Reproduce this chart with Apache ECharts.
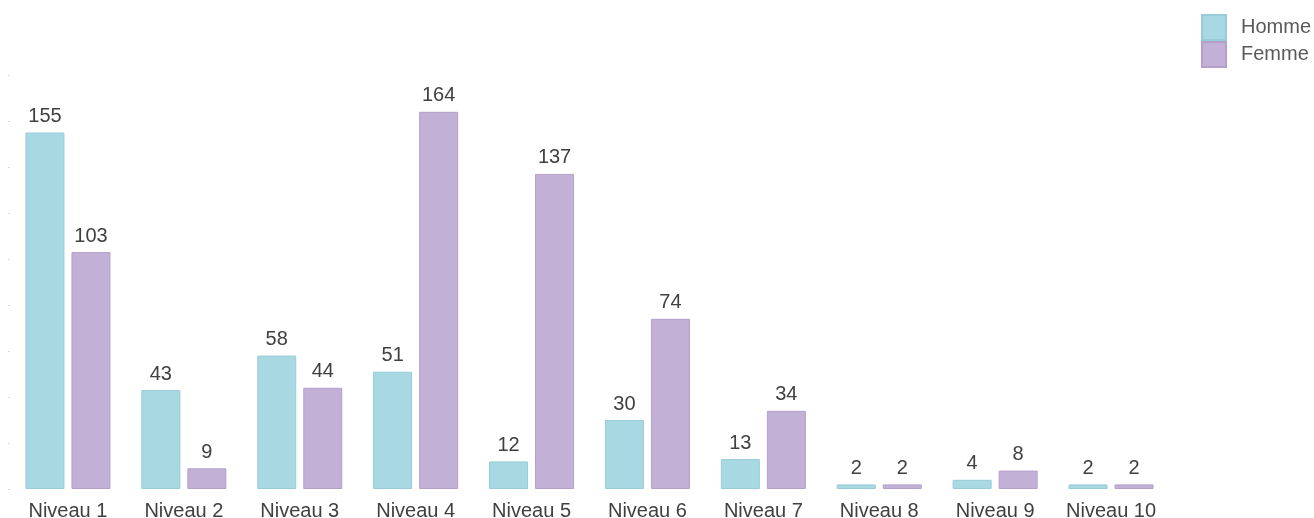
<!DOCTYPE html>
<html>
<head>
<meta charset="utf-8">
<style>
  html, body { margin: 0; padding: 0; background: #fff; }
  #main { width: 1314px; height: 518px; }
</style>
<script src="https://cdn.jsdelivr.net/npm/echarts@6/dist/echarts.min.js"></script>
</head>
<body>
<div id="main"></div>
<script>
// niveaux et effectifs
var categories = ['Niveau 1', 'Niveau 2', 'Niveau 3', 'Niveau 4', 'Niveau 5',
  'Niveau 6', 'Niveau 7', 'Niveau 8', 'Niveau 9', 'Niveau 10'];
var homme = [155, 43, 58, 51, 12, 30, 13, 2, 4, 2];
var femme = [103, 9, 44, 164, 137, 74, 34, 2, 8, 2];

var myChart = echarts.init(document.getElementById('main'));

var labelStyle = {
  show: true,
  position: 'top',
  distance: 6,
  color: '#404040',
  fontSize: 20,
  fontFamily: 'Liberation Sans'
};

myChart.setOption({
  animation: false,
  textStyle: { fontFamily: 'Liberation Sans' },
  legend: {
    orient: 'vertical',
    left: 1196,
    top: 9,
    itemWidth: 24,
    itemHeight: 25,
    itemGap: 0,
    icon: 'rect',
    textStyle: { color: '#595959', fontSize: 20, padding: [0, 0, 0, 10] },
    data: ['Homme', 'Femme']
  },
  grid: {
    left: 10,
    right: 145,
    top: 75,
    bottom: 29,
    outerBoundsMode: 'none'
  },
  xAxis: {
    type: 'category',
    data: categories,
    axisLine: { show: false },
    axisTick: { show: false },
    axisLabel: {
      interval: 0,
      color: '#404040',
      fontSize: 20,
      margin: 12
    }
  },
  yAxis: {
    type: 'value',
    min: 0,
    max: 180,
    interval: 20,
    axisLine: { show: false },
    axisLabel: { show: false },
    splitLine: { show: false },
    axisTick: {
      show: true,
      length: 2,
      lineStyle: { color: '#d9d9d9' }
    }
  },
  series: [{
    name: 'Homme',
    type: 'bar',
    data: homme,
    barWidth: 39,
    barGap: '18%',
    itemStyle: { color: '#A8D8E2', borderColor: '#98CCD8', borderWidth: 1 },
    label: labelStyle
  }, {
    name: 'Femme',
    type: 'bar',
    data: femme,
    barWidth: 39,
    itemStyle: { color: '#C3B0D6', borderColor: '#B5A0CB', borderWidth: 1 },
    label: labelStyle
  }]
});
</script>
</body>
</html>
